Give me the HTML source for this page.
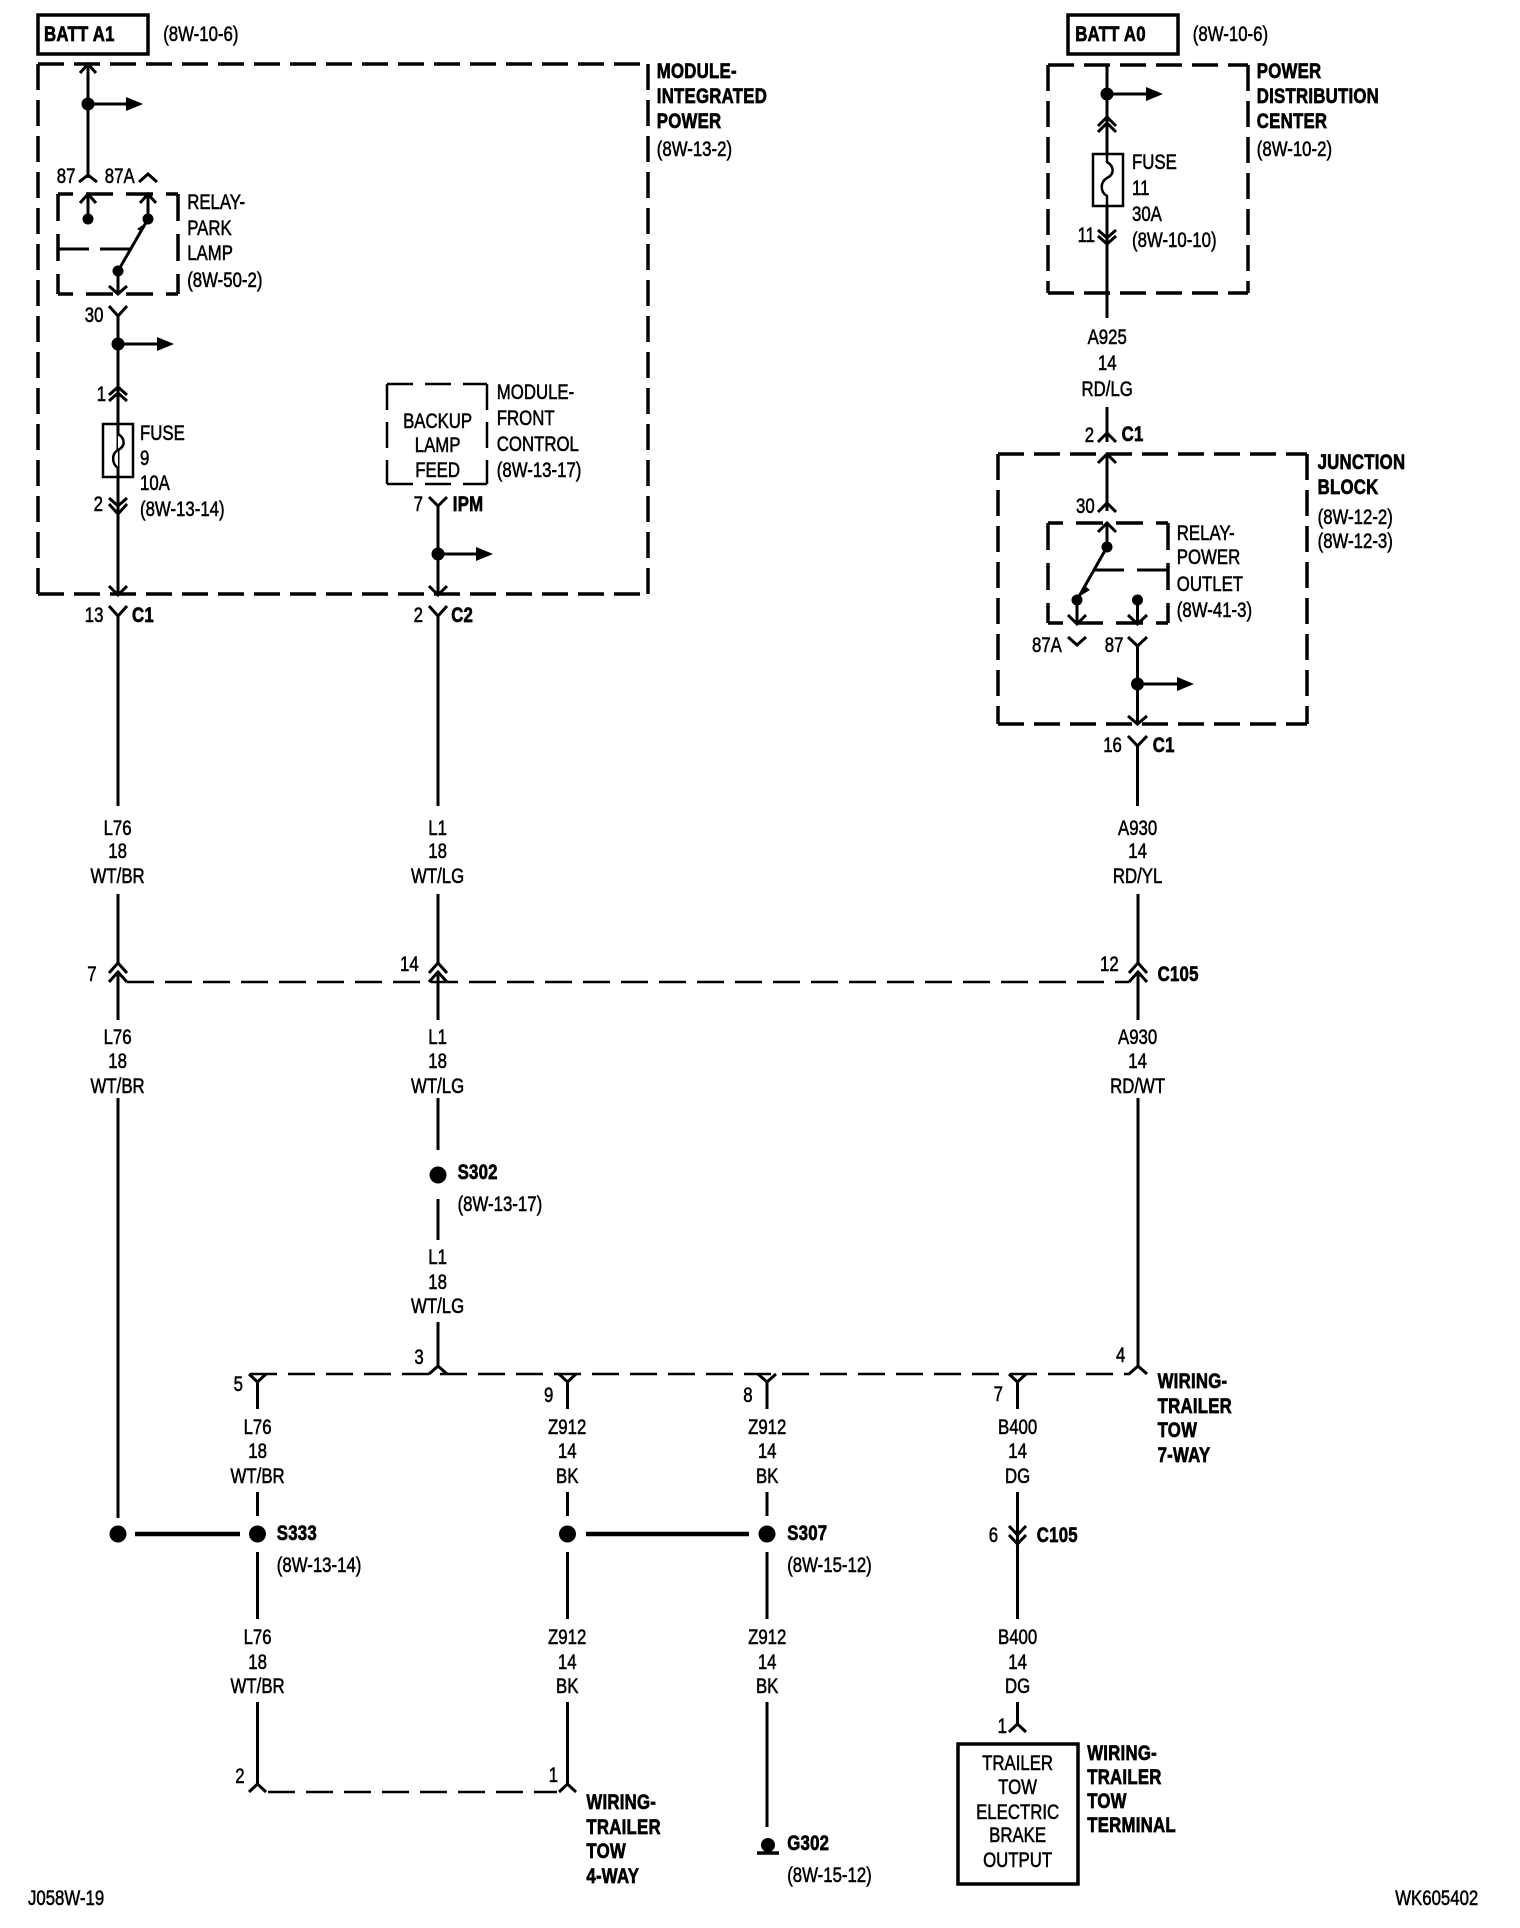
<!DOCTYPE html>
<html><head><meta charset="utf-8"><style>
html,body{margin:0;padding:0;background:#fff}
svg{display:block}
text{font-family:"Liberation Sans",sans-serif;font-size:21px;fill:#000;stroke:#000;stroke-width:.55}
.b{font-weight:bold;stroke-width:.7;letter-spacing:.3px}
.m{text-anchor:middle}
</style></head><body>
<svg width="1520" height="1928" viewBox="0 0 1520 1928" style="position:absolute;left:0;top:0" fill="none" stroke="#000" stroke-width="3">
<rect width="1520" height="1928" fill="#fff" stroke="none"/>
<!-- batt boxes -->
<rect x="38" y="15" width="110" height="39" stroke-width="3.5"/>
<rect x="1068" y="15" width="110" height="39" stroke-width="3.5"/>
<!-- module boxes -->
<g stroke-width="3.5" stroke-dasharray="26 10">
<path d="M38 64H648"/><path d="M38 64V594"/><path d="M648 64V594"/><path d="M38 594H648"/>
<path d="M1048 65H1248"/><path d="M1048 65V293"/><path d="M1248 65V293"/><path d="M1048 293H1248"/>
<path d="M998 454H1307"/><path d="M998 454V724"/><path d="M1307 454V724"/><path d="M998 724H1307"/>
</g>
<!-- relay park lamp box -->
<g stroke-width="3.5" stroke-dasharray="27 13">
<path d="M58 194H178" stroke-dashoffset="12"/><path d="M58 294H178" stroke-dashoffset="12"/>
<path d="M58 194V294"/><path d="M178 194V294"/>
<path d="M1048 523H1168" stroke-dashoffset="12"/><path d="M1048 623H1168" stroke-dashoffset="12"/>
<path d="M1048 523V623"/><path d="M1168 523V623"/>
</g>
<!-- backup box -->
<g stroke-width="2.5" stroke-dasharray="26 12">
<path d="M387 384H487"/><path d="M387 484H487"/><path d="M387 384V484"/><path d="M487 384V484"/>
</g>
<!-- left top wires -->
<path d="M88 64V178M79 182L88 175L97 182M139 182L148 174L157 182"/>
<path d="M80 73L88 64L96 73"/>
<path d="M94 104H126"/>
<path d="M88 219V194M80 203L88 194L96 203M148 219V194M140 203L148 194L156 203"/>
<path d="M148 219L118 271"/>
<path d="M58 249H89M100 249H132"/>
<path d="M118 271V294M109 286L118 294L127 286"/>
<path d="M109 306L118 316L127 306M118 316V594M109 586L118 595L127 586"/>
<path d="M124 344H157"/>
<path d="M109 395L118 387L127 395M109 401L118 393L127 401"/>
<rect x="103" y="424" width="30" height="53" stroke-width="2.5"/>
<path d="M118 424V434C125 438 126 446 118 450C111 454 112 464 118 468V477" fill="#fff" stroke-width="2.5"/>
<path d="M109 498L118 506L127 498M109 504L118 514L127 504"/>
<path d="M109 606L118 616L127 606M118 616V806"/>
<path d="M429 497L438 506L447 497M438 506V595M429 586L438 595L447 586"/>
<path d="M444 554H476"/>
<path d="M429 606L438 616L447 606M438 616V806"/>
<!-- right top -->
<path d="M1107 65V318M1113 94H1146M1098 126L1107 117L1116 126M1098 132L1107 123L1116 132"/>
<rect x="1093" y="154" width="30" height="52" fill="#fff" stroke-width="2.5"/>
<path d="M1107 154V162C1114 166 1115 174 1107 178C1100 182 1100 192 1107 196V206" stroke-width="2.5"/>
<path d="M1098 230L1107 238L1116 230M1098 236L1107 244L1116 236"/>
<path d="M1107 407V442M1098 442L1107 433L1116 442M1107 454V511M1098 463L1107 454L1116 463M1098 512L1107 503L1116 512"/>
<path d="M1107 523V547M1098 532L1107 523L1116 532M1107 547L1077 600M1094 570H1124M1137 570H1168"/>
<path d="M1077 600V624M1068 615L1077 624L1086 615M1137.5 600V624M1128 615L1137.5 624L1147 615"/>
<path d="M1068 637L1077 645L1086 637M1128 637L1137.5 646L1147 637M1137.5 646V724M1128 716L1137.5 724L1147 716M1144 684H1177"/>
<path d="M1128 736L1137.5 746L1147 736M1137.5 746V806"/>
<!-- c105 -->
<g>
<path d="M118 894V963M118 972V1020M109 973L118 963L127 973M109 982L118 972L127 982"/>
<path d="M438 894V963M438 972V1020M429 973L438 963L447 973M429 982L438 972L447 982"/>
<path d="M1138 894V963M1138 972V1020M1129 973L1138 963L1147 973M1129 982L1138 972L1147 982"/>
</g>
<path d="M127 982H1129" stroke-width="2.5" stroke-dasharray="27 11"/>
<!-- below -->
<path d="M118 1098V1518"/>
<path d="M438 1098V1150M438 1199V1240M438 1322V1366M429 1374L438 1366L447 1374"/>
<path d="M1138 1098V1366M1129 1374L1138 1366L1147 1374"/>
<path d="M250 1374H1130" stroke-width="2.5" stroke-dasharray="27 11"/>
<g>
<path d="M249 1374L257.5 1382L266 1374M257.5 1382V1409"/>
<path d="M559 1374L567.5 1382L576 1374M567.5 1382V1409"/>
<path d="M758 1374L767 1382L776 1374M767 1382V1409"/>
<path d="M1009 1374L1017.5 1382L1026 1374M1017.5 1382V1409"/>
<path d="M257.5 1492V1516M257.5 1552V1619M257.5 1702V1784M249 1792L257.5 1784L266 1792"/>
<path d="M567.5 1492V1516M567.5 1552V1619M567.5 1702V1784M559 1792L567.5 1784L576 1792"/>
<path d="M767 1492V1516M767 1552V1619M767 1702V1827"/>
<path d="M1017.5 1492V1535M1017.5 1535V1619M1009 1526L1017.5 1535L1026 1526M1009 1535L1017.5 1544L1026 1535M1017.5 1702V1724M1009 1732L1017.5 1724L1026 1732"/>
</g>
<path d="M268 1792H557" stroke-width="2.5" stroke-dasharray="27 11"/>
<path d="M135 1534H240M586 1534H749" stroke-width="4.5"/>
<path d="M757 1853H779" stroke-width="3.5"/>
<rect x="958" y="1744" width="120" height="140" stroke-width="3.5"/>
<g fill="#000" stroke="none">
<circle cx="88" cy="104" r="6.5"/><circle cx="88" cy="219" r="5.5"/><circle cx="148" cy="219" r="5.5"/><circle cx="118" cy="271" r="5.5"/>
<circle cx="118" cy="344" r="6.5"/><circle cx="438" cy="554" r="6.5"/>
<circle cx="1107" cy="94" r="6.5"/><circle cx="1107" cy="547" r="5.5"/><circle cx="1077" cy="600" r="5.5"/><circle cx="1137.5" cy="600" r="5.5"/><circle cx="1137.5" cy="684" r="6.5"/>
<circle cx="438" cy="1175" r="8.5"/><circle cx="118" cy="1534" r="8.5"/><circle cx="257.5" cy="1534" r="8.5"/><circle cx="567.5" cy="1534" r="8.5"/><circle cx="767" cy="1534" r="8.5"/>
<circle cx="768" cy="1845" r="7"/>
<path d="M126 97L143 104L126 111Z"/><path d="M157 337L174 344L157 351Z"/><path d="M476 547L493 554L476 561Z"/>
<path d="M1146 87L1163 94L1146 101Z"/><path d="M1177 677L1194 684L1177 691Z"/>
<path d="M147 222L142 232L137 229Z"/><path d="M1080 596L1085 586L1090 590Z"/>
</g>
</svg>
<svg width="1520" height="1928" viewBox="0 0 1900 1928" preserveAspectRatio="none" style="position:absolute;left:0;top:-1.5px">
<text class="b" x="55" y="42">BATT A1</text><text x="204" y="42">(8W-10-6)</text>
<text class="b" x="821" y="79">MODULE-</text><text class="b" x="821" y="104">INTEGRATED</text><text class="b" x="821" y="129">POWER</text><text x="821" y="157">(8W-13-2)</text>
<text x="71" y="184">87</text><text x="131" y="184">87A</text>
<text x="234" y="210">RELAY-</text><text x="234" y="236">PARK</text><text x="234" y="261">LAMP</text><text x="234" y="288">(8W-50-2)</text>
<text x="106" y="323">30</text><text x="121" y="402">1</text>
<text x="175" y="441">FUSE</text><text x="175" y="466">9</text><text x="175" y="491">10A</text><text x="175" y="517">(8W-13-14)</text>
<text x="117" y="512">2</text>
<text x="106" y="623">13</text><text class="b" x="165" y="623">C1</text>
<text class="m" x="547" y="429">BACKUP</text><text class="m" x="547" y="453">LAMP</text><text class="m" x="547" y="478">FEED</text>
<text x="621" y="400">MODULE-</text><text x="621" y="426">FRONT</text><text x="621" y="452">CONTROL</text><text x="621" y="478">(8W-13-17)</text>
<text x="517" y="512">7</text><text class="b" x="566" y="512">IPM</text>
<text x="517" y="623">2</text><text class="b" x="564" y="623">C2</text>
<text class="m" x="147" y="836">L76</text><text class="m" x="147" y="859">18</text><text class="m" x="147" y="884">WT/BR</text>
<text class="m" x="547" y="836">L1</text><text class="m" x="547" y="859">18</text><text class="m" x="547" y="884">WT/LG</text>
<text class="m" x="1422" y="836">A930</text><text class="m" x="1422" y="859">14</text><text class="m" x="1422" y="884">RD/YL</text>
<text x="109" y="982">7</text><text x="500" y="972">14</text><text x="1375" y="972">12</text><text class="b" x="1447" y="982">C105</text>
<text class="m" x="147" y="1045">L76</text><text class="m" x="147" y="1069">18</text><text class="m" x="147" y="1094">WT/BR</text>
<text class="m" x="547" y="1045">L1</text><text class="m" x="547" y="1069">18</text><text class="m" x="547" y="1094">WT/LG</text>
<text class="m" x="1422" y="1045">A930</text><text class="m" x="1422" y="1069">14</text><text class="m" x="1422" y="1094">RD/WT</text>
<text class="b" x="572" y="1180">S302</text><text x="572" y="1212">(8W-13-17)</text>
<text class="m" x="547" y="1265">L1</text><text class="m" x="547" y="1290">18</text><text class="m" x="547" y="1314">WT/LG</text>
<text x="518" y="1365">3</text><text x="1395" y="1363">4</text><text x="292" y="1392">5</text><text x="680" y="1403">9</text><text x="929" y="1403">8</text><text x="1242" y="1402">7</text>
<text class="b" x="1447" y="1389">WIRING-</text><text class="b" x="1447" y="1414">TRAILER</text><text class="b" x="1447" y="1438">TOW</text><text class="b" x="1447" y="1463">7-WAY</text>
<text class="m" x="322" y="1435">L76</text><text class="m" x="322" y="1459">18</text><text class="m" x="322" y="1484">WT/BR</text>
<text class="m" x="709" y="1435">Z912</text><text class="m" x="709" y="1459">14</text><text class="m" x="709" y="1484">BK</text>
<text class="m" x="959" y="1435">Z912</text><text class="m" x="959" y="1459">14</text><text class="m" x="959" y="1484">BK</text>
<text class="m" x="1272" y="1435">B400</text><text class="m" x="1272" y="1459">14</text><text class="m" x="1272" y="1484">DG</text>
<text class="b" x="346" y="1541">S333</text><text x="346" y="1573">(8W-13-14)</text>
<text class="b" x="984" y="1541">S307</text><text x="984" y="1573">(8W-15-12)</text>
<text x="1236" y="1543">6</text><text class="b" x="1296" y="1543">C105</text>
<text class="m" x="322" y="1645">L76</text><text class="m" x="322" y="1670">18</text><text class="m" x="322" y="1694">WT/BR</text>
<text class="m" x="709" y="1645">Z912</text><text class="m" x="709" y="1670">14</text><text class="m" x="709" y="1694">BK</text>
<text class="m" x="959" y="1645">Z912</text><text class="m" x="959" y="1670">14</text><text class="m" x="959" y="1694">BK</text>
<text class="m" x="1272" y="1645">B400</text><text class="m" x="1272" y="1670">14</text><text class="m" x="1272" y="1694">DG</text>
<text x="294" y="1784">2</text><text x="686" y="1783">1</text><text x="1247" y="1734">1</text>
<text class="b" x="733" y="1810">WIRING-</text><text class="b" x="733" y="1835">TRAILER</text><text class="b" x="733" y="1859">TOW</text><text class="b" x="733" y="1884">4-WAY</text>
<text class="b" x="984" y="1851">G302</text><text x="984" y="1883">(8W-15-12)</text>
<text class="m" x="1272" y="1771">TRAILER</text><text class="m" x="1272" y="1795">TOW</text><text class="m" x="1272" y="1820">ELECTRIC</text><text class="m" x="1272" y="1843">BRAKE</text><text class="m" x="1272" y="1868">OUTPUT</text>
<text class="b" x="1359" y="1761">WIRING-</text><text class="b" x="1359" y="1785">TRAILER</text><text class="b" x="1359" y="1809">TOW</text><text class="b" x="1359" y="1833">TERMINAL</text>
<text x="35" y="1906">J058W-19</text><text x="1744" y="1906">WK605402</text>
<text class="b" x="1344" y="42">BATT A0</text><text x="1491" y="42">(8W-10-6)</text>
<text class="b" x="1571" y="79">POWER</text><text class="b" x="1571" y="104">DISTRIBUTION</text><text class="b" x="1571" y="129">CENTER</text><text x="1571" y="157">(8W-10-2)</text>
<text x="1415" y="170">FUSE</text><text x="1415" y="196">11</text><text x="1415" y="222">30A</text><text x="1415" y="248">(8W-10-10)</text>
<text x="1347" y="243">11</text>
<text class="m" x="1384" y="345">A925</text><text class="m" x="1384" y="371">14</text><text class="m" x="1384" y="397">RD/LG</text>
<text x="1356" y="443">2</text><text class="b" x="1402" y="442">C1</text>
<text class="b" x="1647" y="470">JUNCTION</text><text class="b" x="1647" y="495">BLOCK</text><text x="1647" y="525">(8W-12-2)</text><text x="1647" y="549">(8W-12-3)</text>
<text x="1345" y="514">30</text>
<text x="1471" y="541">RELAY-</text><text x="1471" y="565">POWER</text><text x="1471" y="592">OUTLET</text><text x="1471" y="618">(8W-41-3)</text>
<text x="1290" y="653">87A</text><text x="1381" y="653">87</text>
<text x="1379" y="753">16</text><text class="b" x="1441" y="753">C1</text>
</svg>
</body></html>
